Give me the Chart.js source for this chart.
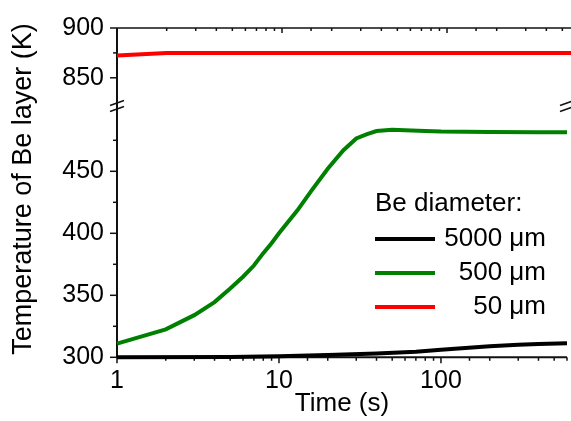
<!DOCTYPE html>
<html>
<head>
<meta charset="utf-8">
<title>Temperature of Be layer</title>
<script src="https://cdn.jsdelivr.net/npm/chart.js@4.4.1/dist/chart.umd.min.js"></script>
<style>
  html, body { margin: 0; padding: 0; background: #fff; overflow: hidden; }
  #wrap { position: relative; width: 571px; height: 421px; overflow: hidden; }
  #wrap canvas { position: absolute; left: 0; top: 0; }
</style>
</head>
<body>
<div id="wrap">
  <canvas id="lowChart" width="576" height="421"></canvas>
  <canvas id="highChart" width="576" height="421"></canvas>
</div>
<script>
// Time axis (s), log scale
const timeMin = 1;
const timeMax = 600;
const timeLabelTicks = [1, 10, 100];

// Temperature axis (K) is broken into a high and a low panel
const highRange = [825, 900];
const highTicks = [850, 900];
const highMinorTicks = [875];
const lowRange = [300, 500];
const lowTicks = [300, 350, 400, 450];
const lowMinorTicks = [325, 375, 425, 475];

// Series
const seriesLabels = ['5000 \u03bcm', '500 \u03bcm', '50 \u03bcm'];
const seriesColors = ['#000000', '#008000', '#ff0000'];

const time5000 = [1, 5, 10, 20, 40, 70, 100, 200, 300, 400, 600];
const temp5000 = [300, 300.2, 300.8, 301.8, 303, 304.5, 306, 309, 310.2, 310.8, 311.3];

const time500 = [1, 2, 3, 4, 5, 6, 7, 8, 9, 10, 13, 16, 20, 25, 30, 35, 40, 50, 60, 80, 100, 200, 400, 600];
const temp500 = [311, 322.5, 334, 344.5, 355.5, 365, 374, 384, 392, 400, 418.5, 435, 452, 467, 476.5, 480, 482.5, 483.5, 483.2, 482.5, 482, 481.7, 481.5, 481.5];

const time50 = [1, 2, 5, 10, 100, 600];
const temp50 = [872.5, 875, 875, 875, 875, 875];

// Geometry
const LAYOUT = {
    axisWidth: 117,      // space left of the plot for y labels
    rightPad: 0.6,
    highTop: 21.7,
    highBottomPad: 318.3,
    lowTop: 109.3,
    xAxisHeight: 63.7,
    breakY: 106,
    titleX: 24,
    titleY: 189
};

const FONT = '"Liberation Sans", Arial, Helvetica, sans-serif';
const AXIS_COLOR = '#111';

Chart.defaults.font.family = FONT;
Chart.defaults.color = '#000';

function points(xs, ys) {
    return xs.map((x, i) => ({ x: x, y: ys[i] }));
}

function lineDataset(idx, xs, ys) {
    return {
        label: seriesLabels[idx],
        data: points(xs, ys),
        borderColor: seriesColors[idx],
        backgroundColor: seriesColors[idx],
        borderWidth: 4,
        pointRadius: 0,
        tension: 0,
        clip: false
    };
}

function tick(ctx, x1, y1, x2, y2) {
    ctx.beginPath();
    ctx.moveTo(x1, y1);
    ctx.lineTo(x2, y2);
    ctx.stroke();
}

// "//" marks where the temperature axis is cut
function drawBreak(ctx, cx, cy) {
    ctx.lineWidth = 1.5;
    [-3, 3].forEach(dy => tick(ctx, cx - 7, cy + dy + 2.5, cx + 7, cy + dy - 2.5));
}

// Axis lines, tick marks and break marks
const framePlugin = {
    id: 'frame',
    beforeDatasetsDraw(chart, args, opts) {
        const ctx = chart.ctx;
        const { left, right, top, bottom } = chart.chartArea;
        const xs = chart.scales.x;
        const ys = chart.scales.y;
        ctx.save();
        ctx.strokeStyle = AXIS_COLOR;

        // left axis
        ctx.lineWidth = 2;
        tick(ctx, left, top - opts.extendTop, left, bottom + opts.extendBottom);

        ctx.lineWidth = 1.5;
        opts.major.forEach(v => {
            const p = ys.getPixelForValue(v);
            tick(ctx, left - 7, p, left, p);
        });
        opts.minor.forEach(v => {
            const p = ys.getPixelForValue(v);
            tick(ctx, left - 4, p, left, p);
        });

        // time ticks
        xs.ticks.forEach(t => {
            const p = xs.getPixelForValue(t.value);
            const major = timeLabelTicks.includes(t.value);
            if (opts.topBorder) {
                tick(ctx, p, top, p, top + (major ? 5 : 3));
            }
            if (opts.bottomAxis) {
                tick(ctx, p, bottom, p, bottom + (major ? 6 : 3.5));
            }
        });

        if (opts.topBorder) {
            ctx.lineWidth = 1.5;
            tick(ctx, left, top, right, top);
        }
        if (opts.bottomAxis) {
            ctx.lineWidth = 2;
            tick(ctx, left, bottom, right, bottom);
        }
        if (opts.breaks) {
            drawBreak(ctx, left, LAYOUT.breakY);
            drawBreak(ctx, right, LAYOUT.breakY);
        }
        ctx.restore();
    }
};

// Legend block and the shared y title
const annotatePlugin = {
    id: 'annotate',
    afterDraw(chart) {
        const ctx = chart.ctx;
        ctx.save();
        ctx.fillStyle = '#000';
        ctx.font = '26px ' + FONT;
        ctx.textBaseline = 'middle';

        ctx.textAlign = 'left';
        ctx.fillText('Be diameter:', 375, 204);

        ctx.lineWidth = 4;
        seriesLabels.forEach((label, i) => {
            const y = 239 + i * 34;
            ctx.strokeStyle = seriesColors[i];
            tick(ctx, 375, y, 435, y);
            ctx.textAlign = 'right';
            ctx.fillText(label, 546, y);
        });

        ctx.font = '27px ' + FONT;
        ctx.translate(LAYOUT.titleX, LAYOUT.titleY);
        ctx.rotate(-Math.PI / 2);
        ctx.textAlign = 'center';
        ctx.fillText('Temperature of Be layer (K)', 0, 0);
        ctx.restore();
    }
};

function timeScale(showAxis) {
    return {
        type: 'logarithmic',
        min: timeMin,
        max: timeMax,
        display: showAxis,
        grid: { display: false, drawTicks: false },
        border: { display: false },
        ticks: {
            autoSkip: false,
            maxRotation: 0,
            padding: 9,
            font: { size: 25 },
            callback: v => timeLabelTicks.includes(v) ? String(v) : ''
        },
        title: {
            display: showAxis,
            text: 'Time (s)',
            font: { size: 26 },
            padding: { top: 0, bottom: 2 }
        },
        afterFit: s => { if (showAxis) s.height = LAYOUT.xAxisHeight; }
    };
}

function tempScale(range, labelTicks) {
    return {
        min: range[0],
        max: range[1],
        grid: { display: false, drawTicks: false },
        border: { display: false },
        ticks: { padding: 13, font: { size: 25 } },
        afterBuildTicks: s => { s.ticks = labelTicks.map(v => ({ value: v })); },
        afterFit: s => { s.width = LAYOUT.axisWidth; }
    };
}

function initCharts() {
    const common = {
        responsive: false,
        animation: false,
        events: [],
        plugins: { legend: { display: false }, tooltip: { enabled: false } }
    };

    new Chart(document.getElementById('lowChart'), {
        type: 'line',
        data: {
            datasets: [
                lineDataset(0, time5000, temp5000),
                lineDataset(1, time500, temp500)
            ]
        },
        options: {
            ...common,
            layout: { padding: { top: LAYOUT.lowTop, bottom: 0, left: 0, right: LAYOUT.rightPad } },
            scales: { x: timeScale(true), y: tempScale(lowRange, lowTicks) },
            plugins: {
                ...common.plugins,
                frame: {
                    major: lowTicks, minor: lowMinorTicks,
                    extendTop: LAYOUT.lowTop - LAYOUT.breakY, extendBottom: 0,
                    topBorder: false, bottomAxis: true, breaks: true
                }
            }
        },
        plugins: [framePlugin, annotatePlugin]
    });

    new Chart(document.getElementById('highChart'), {
        type: 'line',
        data: {
            datasets: [lineDataset(2, time50, temp50)]
        },
        options: {
            ...common,
            layout: { padding: { top: LAYOUT.highTop, bottom: LAYOUT.highBottomPad, left: 0, right: LAYOUT.rightPad } },
            scales: { x: timeScale(false), y: tempScale(highRange, highTicks) },
            plugins: {
                ...common.plugins,
                frame: {
                    major: highTicks, minor: highMinorTicks,
                    extendTop: 0, extendBottom: LAYOUT.breakY - (421 - LAYOUT.highBottomPad),
                    topBorder: true, bottomAxis: false, breaks: false
                }
            }
        },
        plugins: [framePlugin]
    });
}

initCharts();
</script>
</body>
</html>
